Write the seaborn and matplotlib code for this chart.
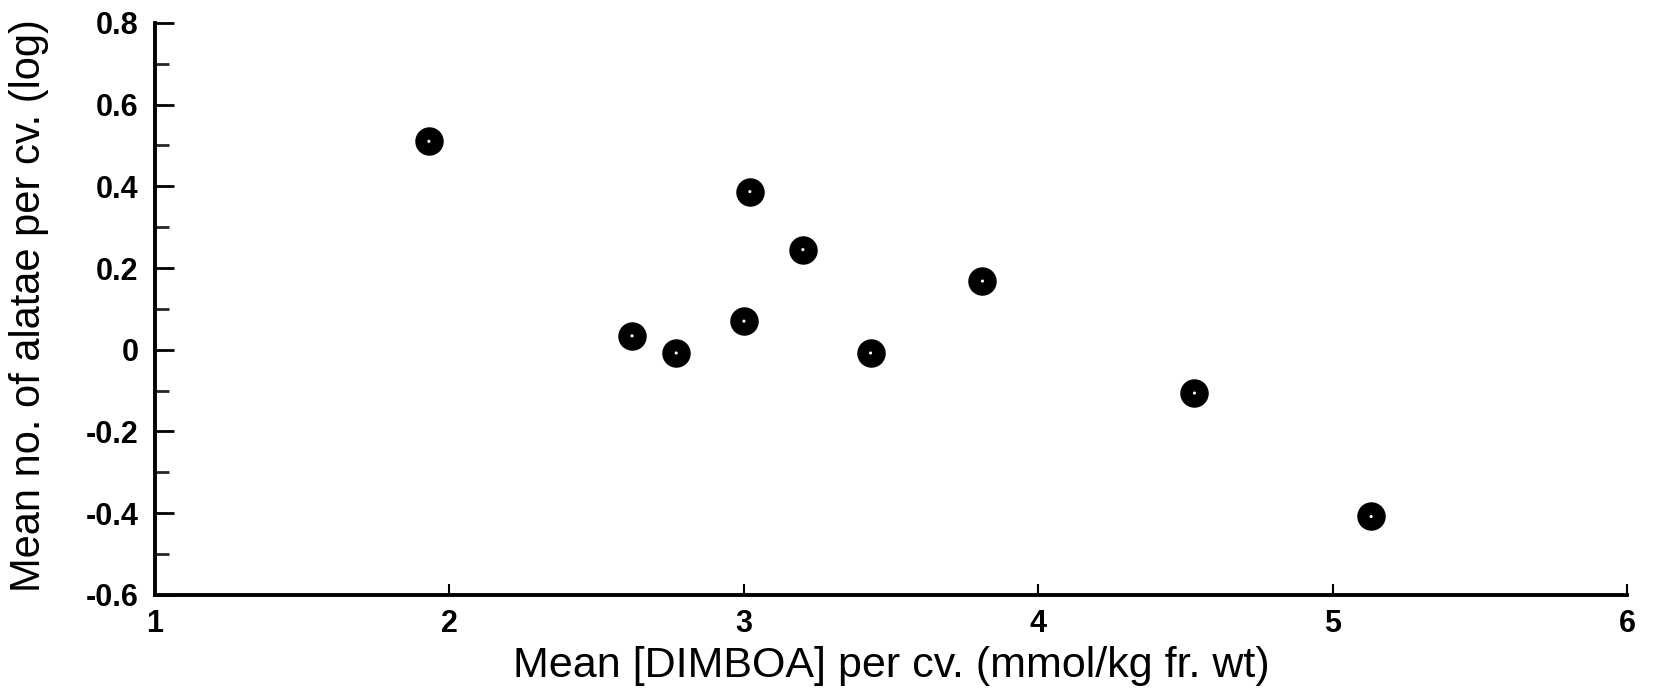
import matplotlib
matplotlib.use("Agg")
import matplotlib.pyplot as plt
import seaborn as sns
import pandas as pd
import numpy as np
from matplotlib.ticker import MultipleLocator

dimboa = [1.93, 3.02, 3.20, 3.81, 2.62, 2.77, 3.00, 3.43, 4.53, 5.13]
alatae_log = [0.51, 0.387, 0.245, 0.168, 0.034, -0.008, 0.07, -0.008, -0.106, -0.408]
x_ticks = [1, 2, 3, 4, 5, 6]
y_ticks = [-0.6, -0.4, -0.2, 0, 0.2, 0.4, 0.6, 0.8]
y_ticklabels = ["-0.6", "-0.4", "-0.2", "0", "0.2", "0.4", "0.6", "0.8"]

df = pd.DataFrame({"x": dimboa, "y": alatae_log})

sns.set_theme(style="ticks")
plt.rcParams["font.family"] = ["Liberation Sans", "DejaVu Sans"]

fig = plt.figure(figsize=(16.58, 6.91), dpi=100)
ax = fig.add_axes([0.0935, 0.139, 0.888, 0.828])

sns.scatterplot(data=df, x="x", y="y", ax=ax, color="black", s=380,
                edgecolor="black", linewidth=1, zorder=3, legend=False)
sns.scatterplot(data=df, x="x", y="y", ax=ax, color="white", s=5,
                edgecolor="none", linewidth=0, zorder=4, legend=False)

ax.set_xlim(1, 6)
ax.set_ylim(-0.6, 0.8)
ax.set_xticks(x_ticks)
ax.set_xticklabels([str(v) for v in x_ticks])
ax.set_yticks(y_ticks)
ax.set_yticklabels(y_ticklabels)
ax.yaxis.set_minor_locator(MultipleLocator(0.1))

for s in ["top", "right"]:
    ax.spines[s].set_visible(False)
for s in ["left", "bottom"]:
    ax.spines[s].set_linewidth(2.8)
    ax.spines[s].set_color("black")

ax.tick_params(axis="y", which="major", direction="in", length=14, width=2, labelsize=22, pad=12, colors="black")
ax.tick_params(axis="y", which="minor", direction="in", length=10, width=2)
ax.tick_params(axis="x", which="major", direction="in", length=8, width=1.5, labelsize=22, pad=10, colors="black")
for lab in ax.get_xticklabels() + ax.get_yticklabels():
    lab.set_fontweight("bold")

ax.set_xlabel("Mean [DIMBOA] per cv. (mmol/kg fr. wt)", fontsize=31, labelpad=5, color="black")
ax.set_ylabel("Mean no. of alatae per cv. (log)", fontsize=30, color="black")
ax.yaxis.set_label_coords(-0.072, 0.505)

fig.savefig("out.png", dpi=100, facecolor="white")
